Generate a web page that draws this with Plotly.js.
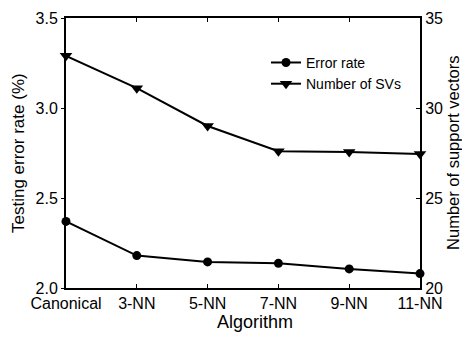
<!DOCTYPE html>
<html>
<head>
<meta charset="utf-8">
<script src="https://cdn.plot.ly/plotly-3.0.1.min.js"></script>
<style>html,body{margin:0;padding:0;background:#fff;}#chart{width:462px;height:338px;}</style>
</head>
<body>
<div id="chart"></div>
<script>
const categories = ["Canonical", "3-NN", "5-NN", "7-NN", "9-NN", "11-NN"];
const errorRate = [2.37, 2.18, 2.145, 2.137, 2.106, 2.08];
const numSVs = [32.9, 31.1, 29.0, 27.6, 27.55, 27.45];
const leftTicks = [2.0, 2.5, 3.0, 3.5];
const leftTickText = ["2.0", "2.5", "3.0", "3.5"];
const rightTicks = [20, 25, 30, 35];

const FONT = "Arial, 'Liberation Sans', sans-serif";

const traces = [
  {
    x: categories, y: errorRate, name: "Error rate", type: "scatter", mode: "lines+markers",
    line: {color: "#000", width: 2}, marker: {symbol: "circle", size: 9, color: "#000"},
    cliponaxis: false, yaxis: "y"
  },
  {
    x: categories, y: numSVs, name: "Number of SVs", type: "scatter", mode: "lines+markers",
    line: {color: "#000", width: 2}, marker: {symbol: "triangle-down", size: 11, color: "#000"},
    cliponaxis: false, yaxis: "y2"
  }
];

const layout = {
  width: 462, height: 338,
  margin: {l: 66, r: 42, t: 18, b: 50, pad: 0},
  paper_bgcolor: "#fff", plot_bgcolor: "#fff",
  font: {family: FONT, size: 16, color: "#000"},
  showlegend: true,
  legend: {x: 0.565, y: 0.893, xanchor: "left", yanchor: "top", bgcolor: "rgba(0,0,0,0)",
           font: {family: FONT, size: 14, color: "#000"}, borderwidth: 0, tracegroupgap: 0},
  xaxis: {
    type: "category", range: [0, 5], showgrid: false, zeroline: false,
    showline: true, linecolor: "#000", linewidth: 2, mirror: "ticks",
    ticks: "inside", ticklen: 4, tickwidth: 1, tickcolor: "#000",
    tickfont: {family: FONT, size: 16, color: "#000"}
  },
  yaxis: {
    range: [2.0, 3.5], tickvals: leftTicks, ticktext: leftTickText, showgrid: false, zeroline: false,
    showline: true, linecolor: "#000", linewidth: 2,
    ticks: "outside", ticklen: 3, tickwidth: 1, tickcolor: "#000",
    tickfont: {family: FONT, size: 16, color: "#000"}
  },
  yaxis2: {
    overlaying: "y", side: "right", range: [20, 35], tickvals: rightTicks,
    showgrid: false, zeroline: false, showline: true, linecolor: "#000", linewidth: 2,
    ticks: "inside", ticklen: 4, tickwidth: 1, tickcolor: "#000",
    tickfont: {family: FONT, size: 16, color: "#000"}
  },
  annotations: [
    {text: "Algorithm", xref: "paper", yref: "paper", x: 0.535, y: -0.125, xanchor: "center", yanchor: "middle",
     showarrow: false, font: {family: FONT, size: 18, color: "#000"}},
    {text: "Testing error rate (%)", xref: "paper", yref: "paper", x: -0.1356, y: 0.5, xanchor: "center", yanchor: "middle",
     textangle: -90, showarrow: false, font: {family: FONT, size: 17, color: "#000"}},
    {text: "Number of support vectors", xref: "paper", yref: "paper", x: 1.093, y: 0.5, xanchor: "center", yanchor: "middle",
     textangle: -90, showarrow: false, font: {family: FONT, size: 16.5, color: "#000"}}
  ]
};

Plotly.newPlot("chart", traces, layout, {displayModeBar: false, staticPlot: true});
</script>
</body>
</html>
